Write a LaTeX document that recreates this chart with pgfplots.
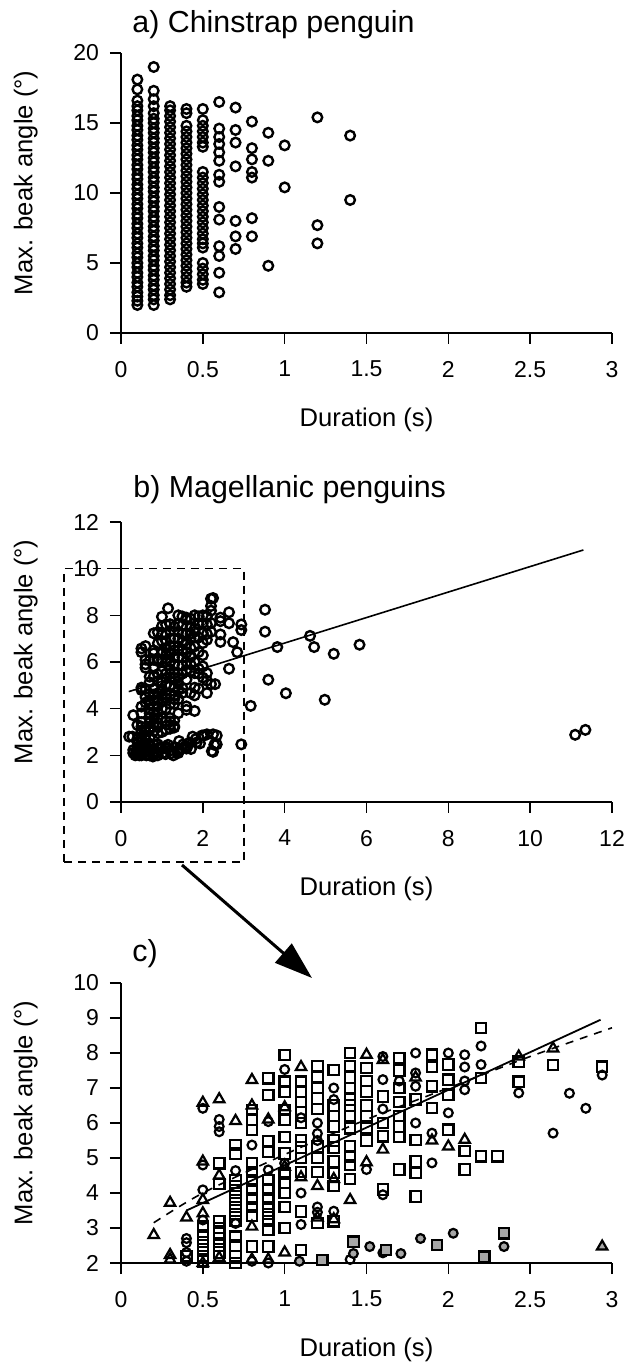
\documentclass[border=0pt]{standalone}
\usepackage{fontspec}
\setmainfont{Liberation Sans}
\usepackage{pgfplots}
\pgfplotsset{compat=1.18}
\usepackage{pgfplotstable}
\usetikzlibrary{arrows.meta}

% ---------- panel a data ----------
\pgfplotstableread{
x y
0.1 18.1
0.1 17.4
0.1 16.6
0.1 16.2
0.1 15.9
0.1 15.5
0.1 15.2
0.1 14.8
0.1 14.5
0.1 14.1
0.1 13.8
0.1 13.4
0.1 13.1
0.1 12.7
0.1 12.4
0.1 12.0
0.1 11.7
0.1 11.3
0.1 11.0
0.1 10.6
0.1 10.3
0.1 9.9
0.1 9.6
0.1 9.2
0.1 8.9
0.1 8.5
0.1 8.2
0.1 7.8
0.1 7.5
0.1 7.1
0.1 6.8
0.1 6.4
0.1 6.1
0.1 5.7
0.1 5.4
0.1 5.0
0.1 4.7
0.1 4.3
0.1 4.0
0.1 3.6
0.1 3.3
0.1 2.9
0.1 2.6
0.1 2.3
0.1 2.0
0.2 19.0
0.2 17.3
0.2 16.7
0.2 16.2
0.2 15.7
0.2 15.3
0.2 15.0
0.2 14.6
0.2 14.3
0.2 13.9
0.2 13.6
0.2 13.2
0.2 12.9
0.2 12.5
0.2 12.2
0.2 11.8
0.2 11.5
0.2 11.1
0.2 10.8
0.2 10.4
0.2 10.1
0.2 9.7
0.2 9.4
0.2 9.0
0.2 8.7
0.2 8.3
0.2 8.0
0.2 7.6
0.2 7.3
0.2 6.9
0.2 6.6
0.2 6.2
0.2 5.9
0.2 5.5
0.2 5.2
0.2 4.8
0.2 4.5
0.2 4.1
0.2 3.8
0.2 3.4
0.2 3.1
0.2 2.7
0.2 2.4
0.2 2.0
0.3 16.2
0.3 15.9
0.3 15.5
0.3 15.1
0.3 14.7
0.3 14.3
0.3 13.9
0.3 13.5
0.3 13.1
0.3 12.7
0.3 12.3
0.3 11.9
0.3 11.5
0.3 11.1
0.3 10.7
0.3 10.3
0.3 9.9
0.3 9.5
0.3 9.1
0.3 8.7
0.3 8.3
0.3 7.9
0.3 7.5
0.3 7.1
0.3 6.7
0.3 6.3
0.3 5.9
0.3 5.5
0.3 5.1
0.3 4.7
0.3 4.3
0.3 3.9
0.3 3.5
0.3 3.1
0.3 2.7
0.3 2.4
0.4 16.0
0.4 15.7
0.4 14.8
0.4 14.4
0.4 14.0
0.4 13.6
0.4 13.2
0.4 12.8
0.4 12.4
0.4 12.0
0.4 11.6
0.4 11.2
0.4 10.8
0.4 10.4
0.4 10.0
0.4 9.6
0.4 9.2
0.4 8.8
0.4 8.4
0.4 8.0
0.4 7.6
0.4 7.2
0.4 6.8
0.4 6.4
0.4 6.0
0.4 5.6
0.4 5.2
0.4 4.8
0.4 4.4
0.4 4.0
0.4 3.6
0.4 3.3
0.5 16.0
0.5 15.2
0.5 14.8
0.5 14.4
0.5 14.0
0.5 13.6
0.5 13.3
0.5 11.5
0.5 11.1
0.5 10.7
0.5 10.3
0.5 9.9
0.5 9.5
0.5 9.1
0.5 8.7
0.5 8.3
0.5 7.9
0.5 7.5
0.5 7.1
0.5 6.7
0.5 6.4
0.5 6.1
0.5 5.0
0.5 4.6
0.5 4.2
0.5 3.8
0.5 3.5
0.6 16.5
0.6 14.6
0.6 14.0
0.6 13.5
0.6 12.9
0.6 12.3
0.6 11.3
0.6 10.8
0.6 9.0
0.6 8.1
0.6 6.2
0.6 5.5
0.6 4.3
0.6 2.9
0.7 16.1
0.7 14.5
0.7 13.6
0.7 11.9
0.7 8.0
0.7 6.9
0.7 6.0
0.8 15.1
0.8 13.2
0.8 12.4
0.8 11.5
0.8 11.1
0.8 8.2
0.8 6.9
0.9 14.3
0.9 12.3
0.9 4.8
1.0 13.4
1.0 10.4
1.2 15.4
1.2 7.7
1.2 6.4
1.4 14.1
1.4 9.5
}\adata

% ---------- panel c data (also plotted in b) ----------
\pgfplotstableread{
x y
0.4 2.2
0.5 3.04
0.5 2.8
0.5 2.6
0.5 2.4
0.5 2.2
0.5 2.05
0.6 4.85
0.6 4.26
0.6 3.2
0.6 3.0
0.6 2.85
0.6 2.7
0.6 2.5
0.6 2.3
0.7 5.37
0.7 5.13
0.7 4.37
0.7 4.2
0.7 4.0
0.7 3.8
0.7 3.6
0.7 3.4
0.7 3.2
0.7 2.75
0.7 2.5
0.7 2.2
0.7 2.0
0.8 6.37
0.8 6.1
0.8 5.8
0.8 4.85
0.8 4.6
0.8 4.35
0.8 4.1
0.8 3.85
0.8 3.6
0.8 3.35
0.8 2.47
0.9 7.28
0.9 6.8
0.9 5.47
0.9 5.18
0.9 4.37
0.9 4.1
0.9 3.85
0.9 3.6
0.9 3.4
0.9 3.2
0.9 2.95
0.9 2.47
1.0 7.94
1.0 7.18
1.0 6.9
1.0 6.37
1.0 6.1
1.0 5.6
1.0 5.13
1.0 4.56
1.0 4.3
1.0 4.0
1.0 3.6
1.0 3.0
1.1 7.18
1.1 6.9
1.1 6.6
1.1 6.3
1.1 6.0
1.1 5.5
1.1 5.3
1.1 5.0
1.1 4.6
1.1 3.47
1.1 2.37
1.2 7.62
1.2 7.33
1.2 7.0
1.2 6.7
1.2 6.4
1.2 5.33
1.2 5.0
1.2 4.6
1.2 3.14
1.3 7.52
1.3 6.5
1.3 6.2
1.3 5.9
1.3 5.5
1.3 5.3
1.3 4.9
1.3 4.57
1.3 4.2
1.3 3.19
1.4 8.0
1.4 7.62
1.4 7.3
1.4 7.0
1.4 6.67
1.4 6.5
1.4 6.2
1.4 5.85
1.4 5.33
1.4 5.05
1.4 4.8
1.4 4.4
1.5 7.57
1.5 7.2
1.5 6.9
1.5 6.5
1.5 6.2
1.5 5.85
1.5 5.5
1.6 6.76
1.6 6.0
1.6 5.62
1.6 4.1
1.7 7.86
1.7 7.5
1.7 7.0
1.7 6.6
1.7 6.2
1.7 5.9
1.7 5.6
1.7 4.67
1.8 6.67
1.8 5.52
1.8 4.9
1.8 4.57
1.8 3.9
1.9 7.95
1.9 7.6
1.9 7.05
1.9 6.43
2.0 7.67
2.0 7.24
2.0 6.81
2.0 5.81
2.1 5.2
2.1 4.67
2.2 8.71
2.2 7.29
2.2 5.05
2.3 5.05
2.43 7.75
2.43 7.18
2.64 7.66
2.94 7.61
}\sqdata

\pgfplotstableread{
x y
0.4 2.7
0.4 2.58
0.4 2.3
0.4 2.05
0.5 6.42
0.5 4.8
0.5 4.09
0.5 3.23
0.6 6.1
0.6 5.9
0.6 5.75
0.7 4.64
0.7 3.13
0.8 5.37
0.8 2.05
0.9 6.04
0.9 4.66
0.9 2.0
1.0 7.53
1.0 4.85
1.1 6.15
1.1 4.0
1.1 3.1
1.2 6.0
1.2 5.7
1.2 5.5
1.2 3.6
1.2 3.45
1.3 7.0
1.3 6.67
1.3 3.48
1.4 2.1
1.5 4.67
1.6 7.9
1.6 7.24
1.6 6.4
1.6 3.95
1.7 7.2
1.8 8.0
1.8 7.43
1.8 7.05
1.8 6.0
1.9 5.71
1.9 4.86
2.0 8.0
2.0 6.29
2.1 7.95
2.1 7.6
2.1 7.2
2.1 6.95
2.2 8.2
2.2 7.67
2.43 6.86
2.64 5.71
2.74 6.85
2.84 6.42
2.94 7.37
}\cidata

\pgfplotstableread{
x y
0.2 2.8
0.3 3.72
0.3 2.23
0.3 2.1
0.4 3.3
0.5 6.58
0.5 4.9
0.5 3.8
0.5 3.42
0.5 2.0
0.6 6.68
0.6 4.5
0.6 2.15
0.7 6.06
0.8 7.23
0.8 6.5
0.8 3.04
0.8 2.1
0.9 6.1
0.9 2.1
1.0 6.45
1.0 4.75
1.0 2.3
1.1 7.6
1.1 4.45
1.2 4.2
1.2 3.3
1.3 4.4
1.3 3.25
1.4 3.8
1.5 7.95
1.5 4.88
1.6 7.8
1.6 5.24
1.8 7.3
1.9 5.5
2.0 5.33
2.1 5.52
2.43 7.9
2.64 8.13
}\trdata

\pgfplotstableread{
x y
1.09 2.05
1.42 2.27
1.52 2.47
1.6 2.29
1.71 2.27
1.83 2.7
2.03 2.85
2.34 2.47
}\fcdata

\pgfplotstableread{
x y
1.23 2.09
1.42 2.61
1.62 2.37
1.93 2.51
2.22 2.18
2.34 2.85
}\fsdata

\pgfplotstableread{
x y
2.94 2.47
}\ftdata

% ---------- panel b extra points ----------
\pgfplotstableread{
x y
0.28 2.8
0.35 2.0
0.38 2.2
0.45 2.0
0.55 2.3
0.62 2.0
0.68 2.45
0.75 2.25
0.78 1.95
0.88 2.15
0.95 2.35
1.02 2.1
1.08 2.3
1.15 2.45
1.2 2.2
1.28 2.0
1.32 2.35
1.38 2.15
1.48 2.3
1.58 2.4
1.68 2.55
1.75 2.8
1.85 2.55
1.98 2.85
2.1 2.9
2.25 2.9
2.28 2.45
2.25 2.15
1.15 8.3
2.25 8.74
2.2 8.4
3.17 4.12
3.52 8.24
3.52 7.3
3.6 5.24
3.82 6.64
4.03 4.66
4.62 7.12
4.72 6.64
4.98 4.38
5.2 6.35
5.83 6.74
11.1 2.88
11.35 3.09
}\bextra

\pgfplotsset{
  panel/.style={
    scale only axis, width=245.5pt, height=140pt,
    axis x line*=bottom, axis y line*=left,
    axis line style={line width=0.8pt, -},
    tick align=outside, major tick length=5.5pt,
    tick style={line width=0.8pt, black},
    tick label style={font=\fontsize{11.5}{13}\selectfont},
    x tick label style={yshift=-5pt},
    y tick label style={xshift=-2pt},
    /pgf/number format/assume math mode=true,
    label style={font=\fontsize{12.8}{15}\selectfont},
    xlabel style={at={(axis description cs:0.5,-0.31)}, anchor=center},
    ylabel style={at={(axis description cs:-0.194,0.536)}, anchor=center},
    xlabel={Duration (s)},
    ylabel={Max. beak angle (°)},
    clip=false,
  },
  omark/.style={only marks, mark=o, mark size=2.4pt, mark options={fill=white, line width=1.2pt, draw=black}},
}

\begin{document}
\begin{tikzpicture}
\useasboundingbox (0,0) rectangle (316.5pt,682pt);

% ---------------- panel a ----------------
\begin{axis}[panel, at={(60.5pt,515.5pt)}, anchor=south west,
  xmin=0, xmax=3, ymin=0, ymax=20,
  xtick={0,0.5,1,1.5,2,2.5,3}, ytick={0,5,10,15,20}]
\addplot[omark] table {\adata};
\end{axis}

% ---------------- panel b ----------------
\begin{axis}[panel, at={(60.5pt,281pt)}, anchor=south west,
  xmin=0, xmax=12, ymin=0, ymax=12,
  xtick={0,2,4,6,8,10,12}, ytick={0,2,4,6,8,10,12}]
\addplot[omark] table {\sqdata};
\addplot[omark] table {\cidata};
\addplot[omark] table {\trdata};
\addplot[omark] table {\fcdata};
\addplot[omark] table {\fsdata};
\addplot[omark] table {\ftdata};
\addplot[omark] table {\bextra};
\addplot[line width=0.8pt, no marks] coordinates {(0.19,4.73) (11.3,10.8)};
\draw[line width=0.8pt, dash pattern=on 4pt off 3pt] (axis cs:-1.39,-2.57) rectangle (axis cs:3,10);
\end{axis}

% ---------------- panel c ----------------
\begin{axis}[panel, at={(60.5pt,50.5pt)}, anchor=south west,
  xmin=0, xmax=3, ymin=2, ymax=10,
  xtick={0,0.5,1,1.5,2,2.5,3}, ytick={2,3,4,5,6,7,8,9,10}]
\addplot[only marks, mark=square, mark size=2.6pt, mark options={fill=white, line width=1.1pt, draw=black}] table {\sqdata};
\addplot[only marks, mark=o, mark size=2.2pt, mark options={fill=white, line width=1.1pt, draw=black}] table {\cidata};
\addplot[only marks, mark=triangle, mark size=3pt, mark options={fill=white, line width=1.1pt, draw=black}] table {\trdata};
\addplot[only marks, mark=*, mark size=2.2pt, mark options={fill=gray!70, line width=1.1pt, draw=black}] table {\fcdata};
\addplot[only marks, mark=square*, mark size=2.6pt, mark options={fill=gray!70, line width=1.1pt, draw=black}] table {\fsdata};
\addplot[only marks, mark=triangle*, mark size=3pt, mark options={fill=gray!70, line width=1.1pt, draw=black}] table {\ftdata};
\addplot[line width=0.9pt, no marks] coordinates {(0.4,3.5) (2.93,8.95)};
\addplot[line width=0.8pt, no marks, smooth, dash pattern=on 4pt off 3.5pt] coordinates {(0.2,3.15) (0.5,4.0) (1.0,5.1) (1.5,6.1) (2.0,7.0) (2.5,7.9) (3.0,8.72)};
\end{axis}

% titles
\node[anchor=base west, font=\fontsize{15.2}{17}\selectfont, inner sep=0pt] at (66pt,665.5pt) {a) Chinstrap penguin};
\node[anchor=base west, font=\fontsize{15.2}{17}\selectfont, inner sep=0pt] at (66.5pt,433pt) {b) Magellanic penguins};
\node[anchor=base west, font=\fontsize{15.2}{17}\selectfont, inner sep=0pt] at (66pt,201pt) {c)};

% arrow from panel b box to panel c
\draw[line width=1.5pt, -{Triangle[length=19pt,width=12.5pt]}] (91pt,249.5pt) -- (156pt,193pt);
\end{tikzpicture}
\end{document}
